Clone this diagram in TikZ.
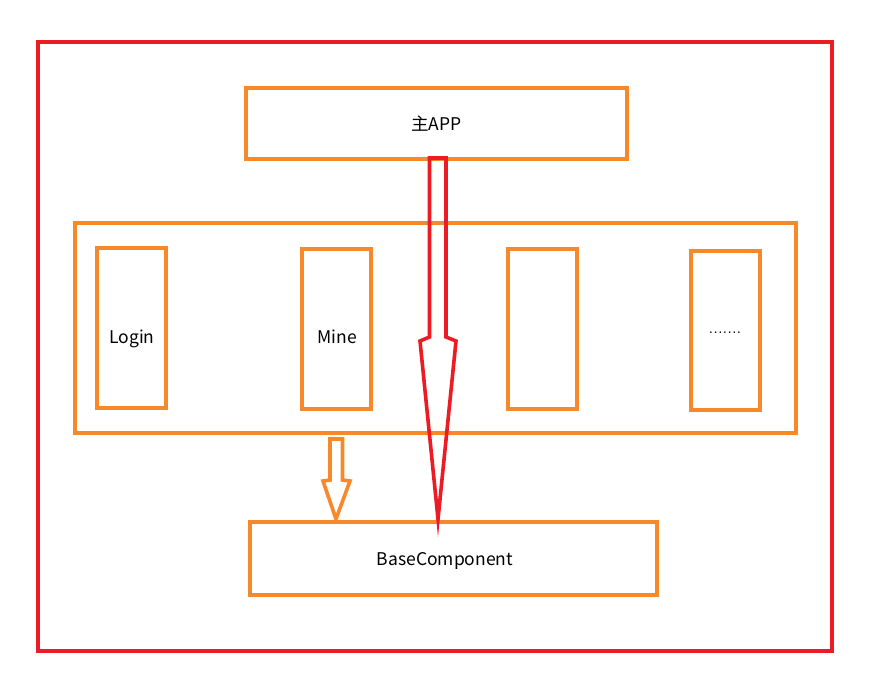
\documentclass[tikz,border=0pt]{standalone}
\usepackage{fontspec}
\setmainfont{Noto Sans CJK SC}
\newfontfamily\dotfont{Liberation Sans}
\definecolor{paintred}{HTML}{ED1C24}
\definecolor{paintorange}{HTML}{F7892B}
\tikzset{
  obox/.style={draw=paintorange, line width=3.6pt, fill=white},
  rline/.style={draw=paintred, line width=3.6pt, line join=miter},
  lbl/.style={font=\fontsize{17.5}{20}\selectfont, text=black, inner sep=0pt}
}
\begin{document}
\begin{tikzpicture}[x=1pt,y=-1pt]
\useasboundingbox (0,0) rectangle (869,678);
\fill[white] (0,0) rectangle (869,678);
\draw[rline] (38,42) rectangle (832,651);
% boxes
\draw[obox] (246,88) rectangle (627,159);
\node[lbl] (app) at (436.5,124) {主APP};
\draw[obox] (75,223) rectangle (796,433);
\draw[obox] (97,248) rectangle (166,408);
\node[lbl] (login) at (132,338.5) {Login};
\draw[obox] (302,249) rectangle (371,409);
\node[lbl] (mine) at (337,336.5) {Mine};
\draw[obox] (508,249) rectangle (577,409);
\draw[obox] (691,251) rectangle (760,410);
\node[lbl,font=\dotfont\fontsize{14}{16}\selectfont] (dots) at (725,334) {·······};
\draw[obox] (250,522) rectangle (657,595);
\node[lbl] (base) at (445,561) {BaseComponent};
% red block arrow
\coordinate (rtip) at (438,519);
\draw[rline] (429.5,158) -- (429.5,337) -- (420,341) -- (rtip) -- (456,341) -- (446,337) -- (446,158) -- cycle;
% orange block arrow
\coordinate (otip) at (336,519);
\draw[draw=paintorange, line width=3.6pt, line join=miter] (330,439) -- (330,480) -- (323,481) -- (otip) -- (350,481) -- (342.5,480) -- (342.5,439) -- cycle;
\end{tikzpicture}
\end{document}
